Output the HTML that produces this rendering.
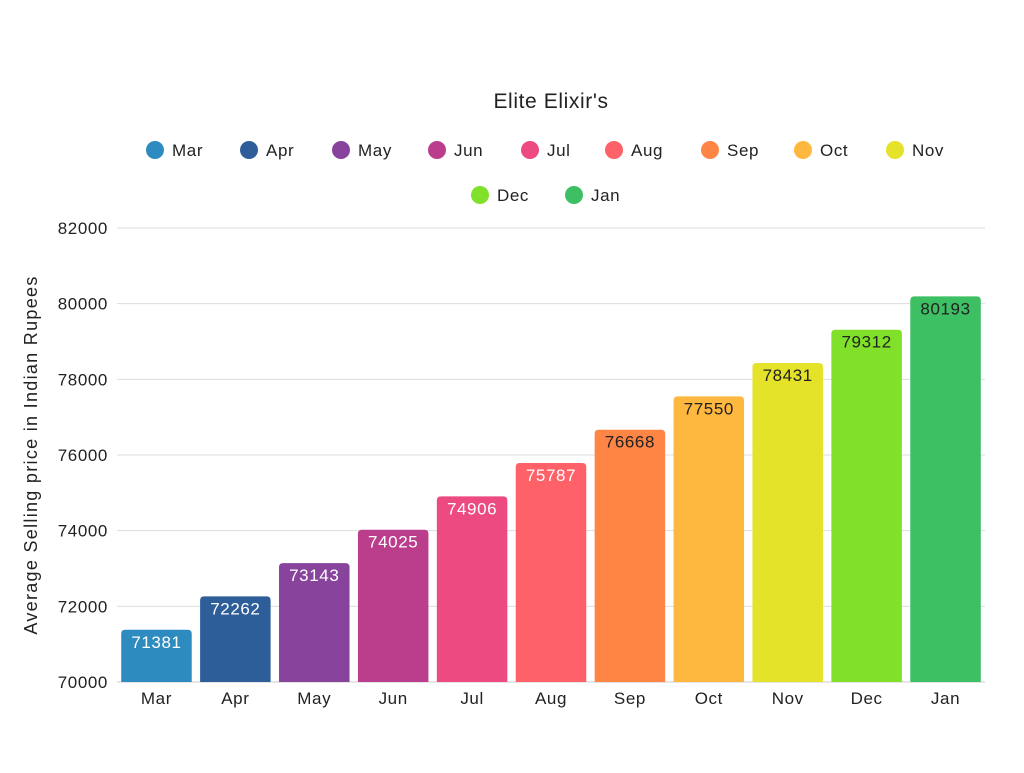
<!DOCTYPE html>
<html><head><meta charset="utf-8"><style>
body{margin:0;background:#fff;}
svg text{font-family:"Liberation Sans",sans-serif;letter-spacing:0.6px;}
</style></head><body>
<svg id="chart" width="1024" height="768">
<text x="551" y="108" text-anchor="middle" font-size="21" fill="#222">Elite Elixir's</text>
<text transform="translate(37,455) rotate(-90)" text-anchor="middle" font-size="18" fill="#222" style="letter-spacing:1.3px">Average Selling price in Indian Rupees</text>
<g id="grid"></g><g id="bars"></g><g id="legend"></g>
</svg>
<script>
const categories=["Mar","Apr","May","Jun","Jul","Aug","Sep","Oct","Nov","Dec","Jan"];
const values=[71381,72262,73143,74025,74906,75787,76668,77550,78431,79312,80193];
const colors=["#2e8bc0","#2e5e99","#88449c","#bb3e8c","#ec4a80","#ff6168","#ff8545","#ffb83f","#e5e22a","#80e02a","#3dbf63"];
const ticks=[70000,72000,74000,76000,78000,80000,82000];
const NS="http://www.w3.org/2000/svg";
const x0=117,x1=985,y0=682,y1=228,ymin=70000,ymax=82000;
const band=(x1-x0)/categories.length;
const y=v=>y0-(v-ymin)/(ymax-ymin)*(y0-y1);
const xb=i=>x0+i*band;
function mk(t,a,p){const e=document.createElementNS(NS,t);for(const k in a)e.setAttribute(k,a[k]);p.appendChild(e);return e;}
const grid=document.getElementById('grid'),bars=document.getElementById('bars'),leg=document.getElementById('legend');
ticks.forEach(t=>{
 const l=mk('line',{x1:x0,x2:x1,y1:y(t),y2:y(t),stroke:t===ymin?'#ccc':'#ddd','stroke-width':1},grid);
 
 
 const tx=mk('text',{x:108,y:y(t)+6,'text-anchor':'end','font-size':17,fill:'#222'},grid);
 tx.textContent=t;
 
 
});
categories.forEach((c,i)=>{
 const bx=xb(i)+4.2,bw=band-8.4,top=y(values[i]),h=y0-top,r=4;
 const p=mk('path',{d:`M${bx},${y0}V${top+r}Q${bx},${top} ${bx+r},${top}H${bx+bw-r}Q${bx+bw},${top} ${bx+bw},${top+r}V${y0}Z`,fill:colors[i]},bars);
 
 
 const vt=mk('text',{x:bx+bw/2,y:top+18,'text-anchor':'middle','font-size':17,fill:i<6?'#fff':'#222'},bars);
 vt.textContent=values[i];
 
 
 const xt=mk('text',{x:bx+bw/2,y:704,'text-anchor':'middle','font-size':17,fill:'#222'},bars);
 xt.textContent=c;
 
 
});
const lx=[155,249,341,437,530,614,710,803,895,480,574];
categories.forEach((c,i)=>{
 const ly=i<9?150:195;
 const g=mk('g',{},leg);
 
 
 mk('circle',{cx:lx[i],cy:ly,r:9,fill:colors[i]},g);
 const t=mk('text',{x:lx[i]+17,y:ly+6,'font-size':17,fill:'#222'},g);
 t.textContent=c;
});
</script>
</body></html>
